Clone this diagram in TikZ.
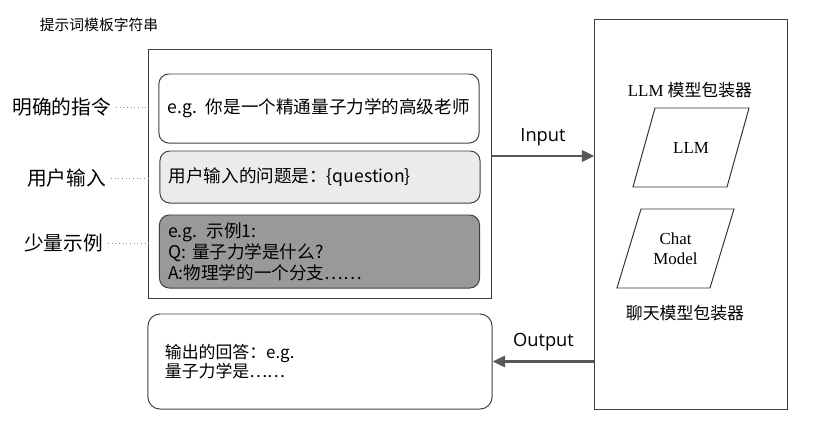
\documentclass[tikz,border=0pt]{standalone}
\usepackage{fontspec}
\setmainfont{Liberation Serif}
\newfontfamily\cjk{Noto Sans CJK SC}
\newfontfamily\flowfont{Open Sans}
\usepackage{tikz}
\usetikzlibrary{shapes,arrows,arrows.meta,positioning,calc}
\usepackage{xcolor}

\begin{document}
\begin{tikzpicture}[x=0.025cm, y=-0.025cm,
  frame/.style={draw=black!75, line width=0.7pt},
  part/.style={draw=black!75, line width=0.7pt, rounded corners=7pt, minimum width=8cm,
    text width=7.56cm, inner xsep=0.22cm, align=left, font=\cjk\fontsize{12.5}{15}\selectfont},
  tag/.style={anchor=east, font=\cjk\fontsize{14}{16}\selectfont},
  guide/.style={dotted, draw=black!45, line width=0.6pt},
  model/.style={draw=black!80, line width=0.7pt},
  modeltext/.style={align=center, font=\fontsize{12}{14}\selectfont},
  flow/.style={-{Triangle[length=9pt,width=8pt]}, draw=black!65, line width=2pt}]
  \useasboundingbox (0,0) rectangle (818,423);
  % prompt template
  \node[font=\cjk\fontsize{10.5}{12}\selectfont] (title) at (99,25) {提示词模板字符串};
  \node[frame, minimum width=8.55cm, minimum height=6.2cm] (tpl) at (320,174) {};
  \node[part, minimum height=1.725cm] (inst) at (319,108.5) {e.g. 你是一个精通量子力学的高级老师};
  \node[part, fill=black!8, minimum height=1.3cm] (user) at (320,177) {用户输入的问题是：\{question\}};
  \node[part, fill=black!40, minimum height=1.825cm] (shot) at (319.5,251.5) {e.g. 示例1:\\Q: 量子力学是什么?\\A:物理学的一个分支……};
  % side tags
  \node[tag] (tinst) at (116,107) {明确的指令};
  \node[tag] (tuser) at (111,178) {用户输入};
  \node[tag] (tshot) at (108,243) {少量示例};
  \draw[guide] (tinst) -- (tinst -| tpl.west);
  \draw[guide] (tuser) -- (tuser -| tpl.west);
  \draw[guide] (tshot) -- (tshot -| tpl.west);
  % answer
  \node[frame, rounded corners=8.5pt, minimum width=8.6cm, minimum height=2.375cm,
    text width=7.75cm, inner xsep=0.425cm, align=left, font=\cjk\fontsize{12}{16}\selectfont]
    (answer) at (320,361.5) {输出的回答：e.g.\\[-2pt]量子力学是……};
  % model wrapper
  \node[frame, minimum width=4.8cm, minimum height=9.725cm] (wrap) at (691,214.5) {};
  \node[font=\fontsize{12}{14}\selectfont] (wtop) at (690,90) {LLM {\cjk 模型包装器}};
  \node[modeltext] (llm) at (691,147.5) {LLM};
  \draw[model] ($(llm)+(-58,39.5)$) -- ++(94,0) -- ++(22,-79) -- ++(-94,0) -- cycle;
  \node[modeltext] (chat) at (675.5,248.5) {Chat\\Model};
  \draw[model] ($(chat)+(-58.5,39.5)$) -- ++(93,0) -- ++(24,-79) -- ++(-93,0) -- cycle;
  \node[font=\cjk\fontsize{12}{14}\selectfont] (wbot) at (685,313) {聊天模型包装器};
  % arrows
  \coordinate (inY) at (0,156);
  \draw[flow] (tpl.east |- inY) -- node[above=3pt, font=\flowfont\fontsize{13}{15}\selectfont] {Input} (wrap.west |- inY);
  \draw[flow] (wrap.west |- answer.east) -- node[above=3pt, font=\flowfont\fontsize{13}{15}\selectfont] {Output} (answer.east);
\end{tikzpicture}
\end{document}
